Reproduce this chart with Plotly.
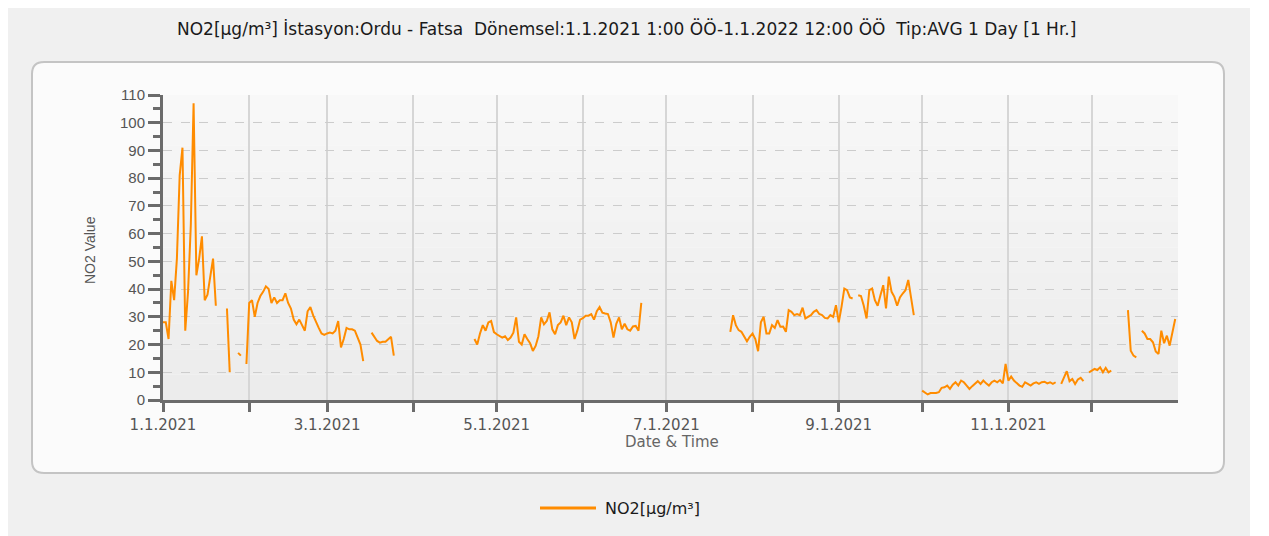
import pandas as pd
import plotly.graph_objects as go

# ---- data (daily NO2 averages, µg/m³) ----
seg_jan_start = "2021-01-01"
seg_jan = [28, 28, 22, 43, 36, 51, 81, 91, 25, 39, 63, 107, 45, 51, 59, 36, 38, 44, 51, 34]
seg_a_start = "2021-01-24"
seg_a = [33, 10]
seg_b_start = "2021-01-28"
seg_b = [17, 16]
seg_c_start = "2021-01-31"
seg_c = [13, 35, 36, 30, 35, 37.5, 39, 41, 40, 35, 37, 35, 36, 36, 38.5, 35, 33, 29, 27.3, 29,
         27, 25, 32, 33.5, 30.5, 28, 26, 24, 23.5, 24, 24.3, 24, 25, 28.5, 19, 22, 26, 25.5, 25.5,
         25, 22.5, 20, 14]
seg_d_start = "2021-03-17"
seg_d = [24.3, 23, 21.3, 20.7, 21, 21, 22, 22.8, 16]
seg_e_start = "2021-04-23"
seg_e = [22, 20, 24, 27, 25, 28, 28.5, 24.5, 23.7, 23, 22.5, 23, 21.6, 22.5, 24.3, 29.8, 21, 20,
         23.7, 22, 20.5, 17.7, 19.5, 23, 29.8, 27.3, 28.5, 31.6, 25.5, 23.7, 27, 28, 30.4, 27, 29.8,
         28, 22, 25, 29, 29.5, 30.4, 30.4, 31, 29, 32, 33.5, 31.5, 31.2, 31, 28, 22.5, 27.5, 29.8,
         25.5, 27.5, 25.5, 25, 26.5, 26.7, 25, 35]
seg_f_start = "2021-07-24"
seg_f = [24.6, 30.6, 27, 25.2, 24.6, 22.8, 21.2, 22.8, 24, 22, 17.6, 28, 30, 24, 24, 27, 26, 28.8,
         26.4, 26.5, 24.6, 32.4, 31.8, 30.6, 31, 30.6, 33.3, 29.4, 30, 30.6, 31.8, 32.4, 31, 30.6,
         29.6, 29.4, 30.6, 30, 34.2, 28, 33.6, 40.2, 39.6, 37, 36.6]
seg_g_start = "2021-09-08"
seg_g = [37.8, 37.5, 34, 29.4, 39.6, 40.2, 36, 34, 37.8, 41.4, 33, 44.5, 39, 37.2, 34, 37, 38.4,
         39.6, 43.3, 36.6, 30.6]
seg_h_start = "2021-10-01"
seg_h = [3.4, 2.8, 2.0, 2.5, 2.5, 2.5, 2.8, 4.4, 4.6, 5.2, 4.0, 5.5, 6.4, 5.2, 7.0, 6.4, 5.2, 4.0,
         5.0, 6.0, 6.8, 5.8, 7.0, 6.0, 5.2, 6.4, 7.0, 6.4, 7.2, 6.0, 13.0, 7.0, 8.5, 7.0, 6.2, 5.2,
         4.8, 6.4, 5.8, 5.2, 6.0, 6.4, 5.8, 6.4, 6.6, 6.0, 6.4, 5.8, 6.4]
seg_i_start = "2021-11-20"
seg_i = [5.8, 8.2, 10.4, 6.8, 7.6, 5.8, 7.4, 8.0, 6.8]
seg_j_start = "2021-11-30"
seg_j = [10.0, 10.6, 11.2, 10.8, 11.8, 10.0, 11.6, 10.0, 10.6]
seg_k_start = "2021-12-14"
seg_k = [32.4, 17.8, 16.0, 15.4]
seg_l_start = "2021-12-19"
seg_l = [25, 24, 22, 22, 20.8, 17.5, 16.6, 25, 20.5, 23.2, 19.6, 25, 29.2]

month_ticks = pd.date_range("2021-01-01", "2021-12-01", freq="MS")
month_labels = ["1.1.2021", "", "3.1.2021", "", "5.1.2021", "", "7.1.2021", "", "9.1.2021", "",
                "11.1.2021", ""]

title_text = ("NO2[µg/m³] İstasyon:Ordu - Fatsa  Dönemsel:1.1.2021 1:00 ÖÖ-1.1.2022 12:00 ÖÖ  "
              "Tip:AVG 1 Day [1 Hr.]")
series_name = "NO2[µg/m³]"

# ---- build daily series with gaps ----
segments = [(seg_jan_start, seg_jan), (seg_a_start, seg_a), (seg_b_start, seg_b),
            (seg_c_start, seg_c), (seg_d_start, seg_d), (seg_e_start, seg_e),
            (seg_f_start, seg_f), (seg_g_start, seg_g), (seg_h_start, seg_h),
            (seg_i_start, seg_i), (seg_j_start, seg_j), (seg_k_start, seg_k),
            (seg_l_start, seg_l)]
days = pd.date_range("2021-01-01", "2021-12-31", freq="D")
series = pd.Series([None] * len(days), index=days, dtype=object)
for start, vals in segments:
    idx = pd.date_range(start, periods=len(vals), freq="D")
    series.loc[idx] = vals

# ---- layout geometry (screen pixels; page body adds an 8px offset) ----
OFF = 8
W, H = 1269 - OFF, 536 - OFF
L, R, T, B = 163 - OFF, 1178 - OFF, 95 - OFF, 400 - OFF
pw, ph = R - L, B - T


def px(x):
    return (x - OFF - L) / pw


def py(y):
    return (B - (y - OFF)) / ph


fig = go.Figure()
fig.add_trace(go.Scatter(
    x=series.index, y=series.values, mode="lines", name=series_name,
    line=dict(color="#ff8c00", width=2), connectgaps=False, showlegend=False,
))

# outer rounded panel
x0, x1, y0, y1 = px(32), px(1224), py(473), py(62)
rx, ry = 12 / pw, 12 / ph
panel_path = (f"M{x0+rx},{y0} L{x1-rx},{y0} Q{x1},{y0} {x1},{y0+ry} L{x1},{y1-ry} "
              f"Q{x1},{y1} {x1-rx},{y1} L{x0+rx},{y1} Q{x0},{y1} {x0},{y1-ry} "
              f"L{x0},{y0+ry} Q{x0},{y0} {x0+rx},{y0} Z")
shapes = [
    dict(type="rect", xref="paper", yref="paper", x0=px(0), x1=px(1250), y0=py(540), y1=py(0),
         fillcolor="#f0f0f0", line=dict(width=0), layer="below"),
    dict(type="path", xref="paper", yref="paper", path=panel_path, fillcolor="#fbfbfb",
         line=dict(color="#c4c4c4", width=2), layer="below"),
]
# plot-area background gradient bands
nb = 12
for i in range(nb):
    c = int(248 - (248 - 236) * i / (nb - 1))
    shapes.append(dict(type="rect", xref="paper", yref="paper", x0=0, x1=1,
                       y0=1 - (i + 1) / nb, y1=1 - i / nb,
                       fillcolor=f"rgb({c},{c},{c})", line=dict(width=0), layer="below"))
# legend line
shapes.append(dict(type="line", xref="paper", yref="paper", x0=px(540), x1=px(596),
                   y0=py(508), y1=py(508), line=dict(color="#ff8c00", width=3)))

annotations = [
    dict(text=title_text, xref="paper", yref="paper", x=px(626), y=py(28), showarrow=False,
         xanchor="center", yanchor="middle",
         font=dict(family="DejaVu Sans", size=17, color="#1a1a1a")),
    dict(text="NO2 Value", xref="paper", yref="paper", x=px(90), y=py(250), showarrow=False,
         textangle=-90, xanchor="center", yanchor="middle",
         font=dict(family="Liberation Sans", size=14, color="#555555")),
    dict(text="Date & Time", xref="paper", yref="paper", x=px(672), y=py(442), showarrow=False,
         xanchor="center", yanchor="middle",
         font=dict(family="DejaVu Sans", size=15, color="#666666")),
    dict(text=series_name, xref="paper", yref="paper", x=px(603), y=py(508), showarrow=False,
         xanchor="left", yanchor="middle",
         font=dict(family="DejaVu Sans", size=16, color="#1a1a1a")),
]

axis_col = "#6b6b6b"
fig.update_layout(
    width=W, height=H,
    margin=dict(l=L, r=W - R, t=T, b=H - B, pad=0),
    paper_bgcolor="#ffffff", plot_bgcolor="rgba(0,0,0,0)",
    showlegend=False, shapes=shapes, annotations=annotations,
    xaxis=dict(
        type="date", range=["2021-01-01", "2022-01-01"],
        tickmode="array", tickvals=month_ticks, ticktext=month_labels,
        showgrid=True, gridcolor="#d6d6d6", gridwidth=2,
        showline=True, linecolor=axis_col, linewidth=3,
        ticks="outside", ticklen=9, tickwidth=3, tickcolor=axis_col,
        tickfont=dict(family="DejaVu Sans", size=15, color="#555555"),
        zeroline=False,
    ),
    yaxis=dict(
        range=[0, 110], tickmode="linear", tick0=0, dtick=10,
        showgrid=True, gridcolor="#cccccc", gridwidth=1.2, griddash="dash",
        showline=True, linecolor=axis_col, linewidth=3,
        ticks="outside", ticklen=12, tickwidth=3, tickcolor=axis_col,
        minor=dict(dtick=5, tick0=0, ticks="outside", ticklen=7, tickwidth=3,
                   tickcolor=axis_col, showgrid=False),
        tickfont=dict(family="Liberation Sans", size=15, color="#555555"),
        zeroline=False,
    ),
)

fig.write_html("out.html")
